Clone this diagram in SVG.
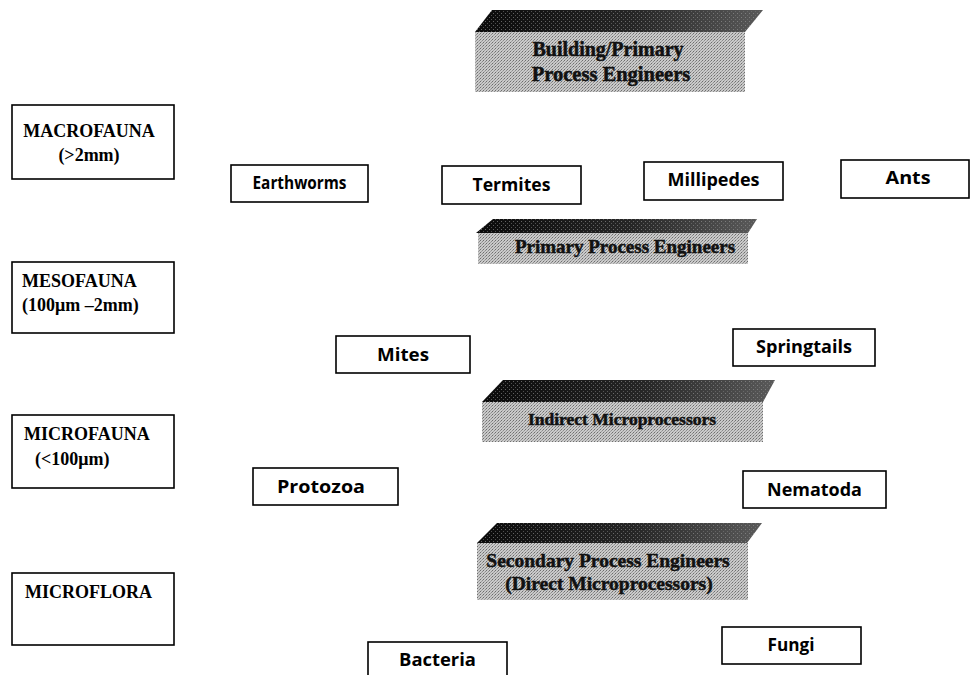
<svg xmlns="http://www.w3.org/2000/svg" width="971" height="675" viewBox="0 0 971 675">
<defs>
 <pattern id="halftone" width="3" height="3" patternUnits="userSpaceOnUse">
  <rect width="3" height="3" fill="#cacaca"/>
  <rect width="1" height="1" fill="#6e6e6e"/>
  <rect x="2" y="1" width="1" height="1" fill="#8c8c8c"/>
  <rect x="1" y="2" width="1" height="1" fill="#a0a0a0"/>
 </pattern>
 <linearGradient id="darkgrad" x1="0" x2="1" y1="0" y2="0">
  <stop offset="0" stop-color="#0a0a0a"/>
  <stop offset="0.55" stop-color="#262626"/>
  <stop offset="1" stop-color="#5a5a5a"/>
 </linearGradient>
 <pattern id="speck" width="4" height="4" patternUnits="userSpaceOnUse">
  <rect x="1" y="1" width="1" height="1" fill="#9a9a9a"/>
  <rect x="3" y="3" width="1" height="1" fill="#7a7a7a"/>
 </pattern>
</defs>
<style>
 .lbox{fill:#fff;stroke:#000;stroke-width:1.6}
 .sbox{fill:#fff;stroke:#000;stroke-width:1.6}
 .lt{font-family:"Liberation Serif","Times New Roman",serif;font-weight:bold;font-size:18px;fill:#000}
 .st{font-family:"Open Sans","DejaVu Sans",sans-serif;font-weight:bold;font-size:18px;fill:#000;text-anchor:middle}
 .bt{font-family:"Liberation Serif","Times New Roman",serif;font-weight:bold;fill:#111;stroke:#111;stroke-width:0.5;text-anchor:middle}
 .front{fill:url(#halftone)}
 .dark{fill:url(#darkgrad)}
 .spk{fill:url(#speck);opacity:0.6}
</style>

<!-- Left category boxes -->
<g id="macrofauna">
 <rect class="lbox" x="12" y="105" width="162" height="74"/>
 <text class="lt" x="89" y="137" text-anchor="middle">MACROFAUNA</text>
 <text class="lt" x="89" y="161" text-anchor="middle">(&gt;2mm)</text>
</g>
<g id="mesofauna">
 <rect class="lbox" x="12" y="262" width="162" height="71"/>
 <text class="lt" x="22" y="287">MESOFAUNA</text>
 <text class="lt" x="22" y="311">(100μm –2mm)</text>
</g>
<g id="microfauna">
 <rect class="lbox" x="12" y="415" width="162" height="73"/>
 <text class="lt" x="24" y="440">MICROFAUNA</text>
 <text class="lt" x="35" y="465">(&lt;100μm)</text>
</g>
<g id="microflora">
 <rect class="lbox" x="12" y="573" width="162" height="72"/>
 <text class="lt" x="25" y="598">MICROFLORA</text>
</g>

<!-- Banners -->
<g id="banner-building">
 <polygon class="dark" points="492,10 763,10 745,32 475,32"/>
 <polygon class="spk" points="492,10 763,10 745,32 475,32"/>
 <rect class="front" x="475" y="32" width="270" height="60"/>
 <text class="bt" x="608" y="56" font-size="20">Building/Primary</text>
 <text class="bt" x="611" y="81" font-size="20.5">Process Engineers</text>
</g>
<g id="banner-primary">
 <polygon class="dark" points="493,219 757,219 748,233 476,233"/>
 <polygon class="spk" points="493,219 757,219 748,233 476,233"/>
 <rect class="front" x="478" y="233" width="270" height="31"/>
 <text class="bt" x="625" y="253" font-size="19">Primary Process Engineers</text>
</g>
<g id="banner-indirect">
 <polygon class="dark" points="503,380 775,380 763,402 482,402"/>
 <polygon class="spk" points="503,380 775,380 763,402 482,402"/>
 <rect class="front" x="482" y="402" width="281" height="40"/>
 <text class="bt" x="622" y="425" font-size="17.5">Indirect Microprocessors</text>
</g>
<g id="banner-secondary">
 <polygon class="dark" points="497,523 762,523 747,543 477,543"/>
 <polygon class="spk" points="497,523 762,523 747,543 477,543"/>
 <rect class="front" x="477" y="543" width="271" height="57"/>
 <text class="bt" x="608" y="567" font-size="19.5">Secondary Process Engineers</text>
 <text class="bt" x="609" y="590" font-size="19.5">(Direct Microprocessors)</text>
</g>

<!-- Organism boxes -->
<g id="earthworms">
 <rect class="sbox" x="231" y="165" width="137" height="37"/>
 <text class="st" x="299.5" y="189" textLength="94" lengthAdjust="spacingAndGlyphs">Earthworms</text>
</g>
<g id="termites">
 <rect class="sbox" x="442" y="166" width="139" height="38"/>
 <text class="st" x="511.5" y="191" textLength="78" lengthAdjust="spacingAndGlyphs">Termites</text>
</g>
<g id="millipedes">
 <rect class="sbox" x="644" y="162" width="139" height="38"/>
 <text class="st" x="713.5" y="186" textLength="92" lengthAdjust="spacingAndGlyphs">Millipedes</text>
</g>
<g id="ants">
 <rect class="sbox" x="841" y="160" width="128" height="38"/>
 <text class="st" x="908" y="184" textLength="45" lengthAdjust="spacingAndGlyphs">Ants</text>
</g>
<g id="mites">
 <rect class="sbox" x="336" y="336" width="134" height="37"/>
 <text class="st" x="403" y="361" textLength="52" lengthAdjust="spacingAndGlyphs">Mites</text>
</g>
<g id="springtails">
 <rect class="sbox" x="733" y="329" width="142" height="37"/>
 <text class="st" x="804" y="353" textLength="96" lengthAdjust="spacingAndGlyphs">Springtails</text>
</g>
<g id="protozoa">
 <rect class="sbox" x="253" y="468" width="145" height="37"/>
 <text class="st" x="321" y="493" textLength="88" lengthAdjust="spacingAndGlyphs">Protozoa</text>
</g>
<g id="nematoda">
 <rect class="sbox" x="743" y="471" width="143" height="37"/>
 <text class="st" x="814.5" y="496" textLength="95" lengthAdjust="spacingAndGlyphs">Nematoda</text>
</g>
<g id="bacteria">
 <rect class="sbox" x="368" y="642" width="139" height="40"/>
 <text class="st" x="437.5" y="666" textLength="77" lengthAdjust="spacingAndGlyphs">Bacteria</text>
</g>
<g id="fungi">
 <rect class="sbox" x="722" y="627" width="139" height="37"/>
 <text class="st" x="791" y="651" textLength="47" lengthAdjust="spacingAndGlyphs">Fungi</text>
</g>

<g id="connectors"></g>
</svg>
